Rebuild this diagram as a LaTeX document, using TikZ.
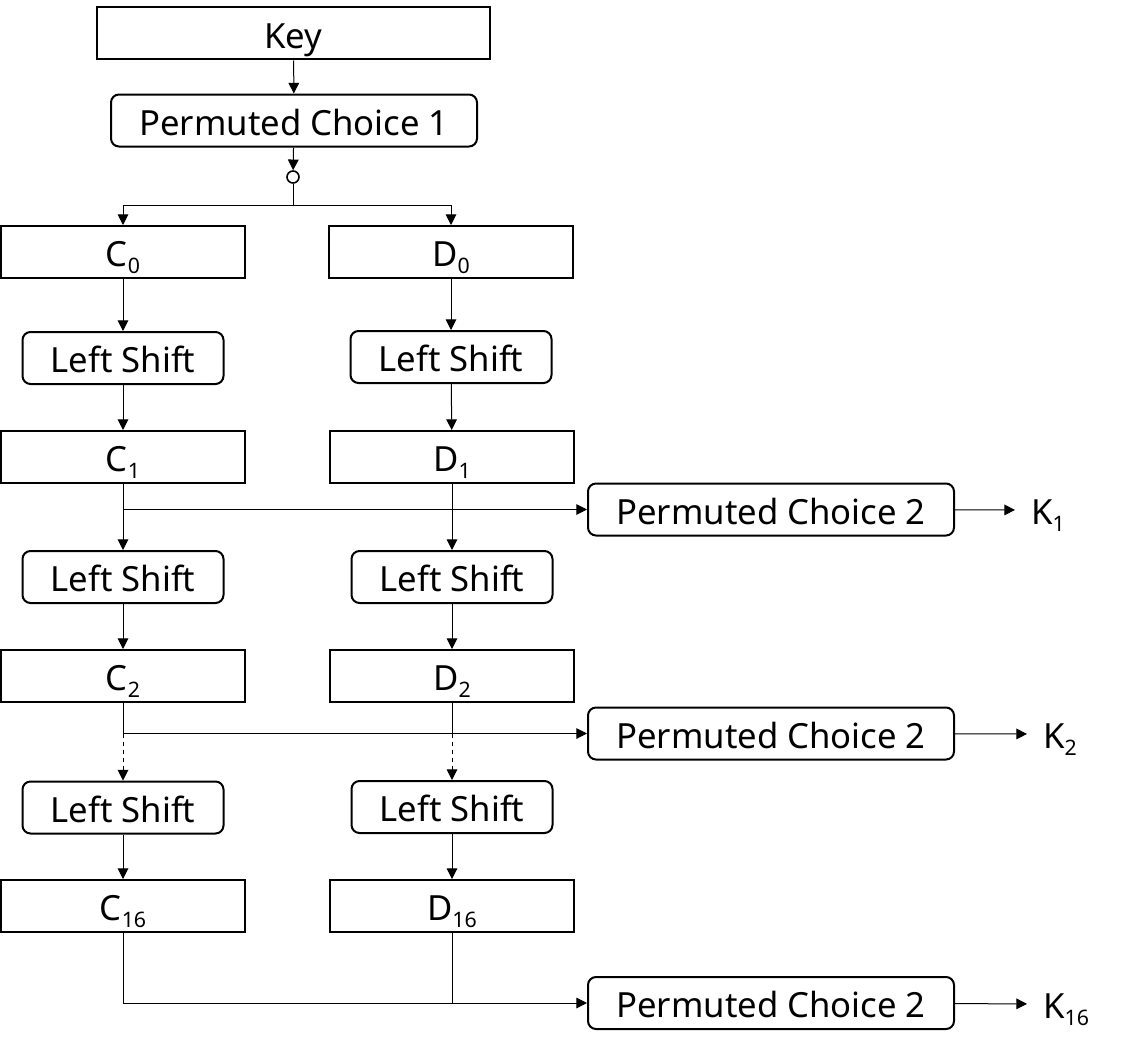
\documentclass[tikz,border=0pt]{standalone}
\usepackage{fontspec}
\setmainfont{Noto Sans}
\usetikzlibrary{arrows.meta}
\newcommand{\subind}[1]{\raisebox{-5pt}{\fontsize{16}{18}\selectfont #1}}
\tikzset{
  caja/.style={draw, line width=1.5pt, minimum height=39pt, inner sep=0pt,
    text height=22pt, text depth=0pt, font=\fontsize{26}{30}\selectfont},
  redonda/.style={caja, rounded corners=6pt},
  mitad/.style={caja, minimum width=183pt},
  turno/.style={redonda, minimum width=150.75pt},
  pcdos/.style={redonda, minimum width=274.5pt},
  salida/.style={anchor=west, inner sep=0pt, inner xsep=12pt,
    text height=22pt, text depth=0pt, font=\fontsize{26}{30}\selectfont},
  flecha/.style={-{Triangle[length=8pt,width=8pt]}, line width=0.75pt},
  linea/.style={line width=0.75pt},
}
\begin{document}
\begin{tikzpicture}[x=0.75pt,y=-0.75pt]
    \useasboundingbox (0,0) rectangle (1123,1049);

    % Clave y primera permutación.
    \node[caja, minimum width=294.75pt] (key) at (293.5,33.5) {Key};
    \node[redonda, minimum width=274.5pt] (pc1) at (294,120.5) {Permuted Choice 1};
    \node[draw, circle, line width=1.2pt, minimum size=9pt, inner sep=0pt] (union) at (293,177) {};
    \draw[flecha] (key) -- (pc1);
    \draw[flecha] (pc1) -- (union);
    \draw[linea] (union) -- (293,205) coordinate (rama);

    % Las dos mitades, columna C a la izquierda y D a la derecha.
    \node[mitad] (c0) at (123,252) {C\subind{0}};
    \node[mitad] (d0) at (451,252) {D\subind{0}};
    \node[turno] (lsc1) at (123,358) {Left Shift};
    \node[turno] (lsd1) at (451,357) {Left Shift};
    \node[mitad] (c1) at (123,457) {C\subind{1}};
    \node[mitad] (d1) at (452,457) {D\subind{1}};
    \node[turno] (lsc2) at (123,577) {Left Shift};
    \node[turno] (lsd2) at (452,577) {Left Shift};
    \node[mitad] (c2) at (123,676) {C\subind{2}};
    \node[mitad] (d2) at (452,676) {D\subind{2}};
    \node[turno] (lsc3) at (123,807.5) {Left Shift};
    \node[turno] (lsd3) at (452,807) {Left Shift};
    \node[mitad] (c16) at (123,906) {C\subind{16}};
    \node[mitad] (d16) at (452,906) {D\subind{16}};

    % Segunda permutación y subclaves.
    \node[pcdos] (pc2a) at (771,509.5) {Permuted Choice 2};
    \node[pcdos] (pc2b) at (771,733.5) {Permuted Choice 2};
    \node[pcdos] (pc2c) at (771,1003) {Permuted Choice 2};
    \node[salida] (k1) at (1015,510) {K\subind{1}};
    \node[salida] (k2) at (1027,734) {K\subind{2}};
    \node[salida] (k16) at (1027,1004) {K\subind{16}};

    \draw[flecha] (rama) -| (c0);
    \draw[flecha] (rama) -| (d0);
    \draw[flecha] (c0) -- (lsc1);
    \draw[flecha] (d0) -- (lsd1);
    \draw[flecha] (lsc1) -- (c1);
    \draw[flecha] (lsd1) -- (d1);
    \draw[flecha] (c1) -- (lsc2);
    \draw[flecha] (d1) -- (lsd2);
    \draw[flecha] (c1.south |- pc2a.west) -- (pc2a);
    \draw[flecha] (lsc2) -- (c2);
    \draw[flecha] (lsd2) -- (d2);

    % Las rondas intermedias se omiten: tramo discontinuo.
    \draw[linea] (c2.south) -- (c2.south |- pc2b.west) coordinate (rc2);
    \draw[linea] (d2.south) -- (d2.south |- pc2b.west) coordinate (rd2);
    \draw[flecha, dashed] (rc2) -- (lsc3);
    \draw[flecha, dashed] (rd2) -- (lsd3);
    \draw[flecha] (rc2) -- (pc2b);
    \draw[flecha] (lsc3) -- (c16);
    \draw[flecha] (lsd3) -- (d16);

    \draw[flecha] (c16.south) |- (pc2c);
    \draw[linea] (d16.south) -- (d16.south |- pc2c.west);

    \draw[flecha] (pc2a) -- (k1);
    \draw[flecha] (pc2b) -- (k2);
    \draw[flecha] (pc2c) -- (k16);
\end{tikzpicture}
\end{document}
